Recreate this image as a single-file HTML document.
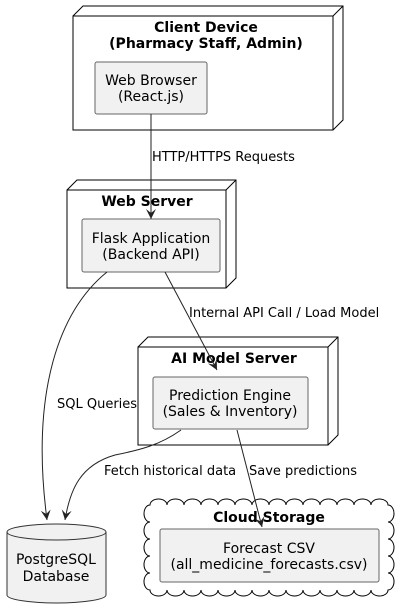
<!DOCTYPE html>
<html><head><style>
html,body{margin:0;padding:0;background:#fff;}
svg{display:block;}
text{font-family:"DejaVu Sans","Liberation Sans",sans-serif;font-size:14px;fill:#000;}
.b{font-weight:bold;font-size:14px;}
.e{font-size:13px;}
</style></head><body>
<svg width="406" height="614" viewBox="0 0 406 614" xmlns="http://www.w3.org/2000/svg">
<defs>
<marker id="a" markerWidth="12" markerHeight="12" refX="10" refY="5" orient="auto" markerUnits="userSpaceOnUse">
<path d="M0,0 L10,5 L0,10 L4,5 Z" fill="#222"/>
</marker>
</defs>
<g fill="#fff" stroke="#000" stroke-width="1">
<path d="M73,16 L83,6 L343,6 L343,120 L333,130"/>
<rect x="73" y="16" width="260" height="114"/>
<line x1="333" y1="16" x2="343" y2="6"/>
<path d="M67,190 L77,180 L236,180 L236,278 L226,288"/>
<rect x="67" y="190" width="159" height="98"/>
<line x1="226" y1="190" x2="236" y2="180"/>
<path d="M138,347 L148,337 L338,337 L338,435 L328,445"/>
<rect x="138" y="347" width="190" height="98"/>
<line x1="328" y1="347" x2="338" y2="337"/>
<path d="M150,505 a8.5 6 0 0 1 17 0 a8.5 6 0 0 1 17 0 a8.5 6 0 0 1 17 0 a8.5 6 0 0 1 17 0 a8.5 6 0 0 1 17 0 a8.5 6 0 0 1 17 0 a8.5 6 0 0 1 17 0 a8.5 6 0 0 1 17 0 a8.5 6 0 0 1 17 0 a8.5 6 0 0 1 17 0 a8.5 6 0 0 1 17 0 a8.5 6 0 0 1 17 0 a8.5 6 0 0 1 17 0 a8.5 6 0 0 1 17 0
a6 8.5 0 0 1 0 17 a6 8.5 0 0 1 0 17 a6 8.5 0 0 1 0 17 a6 8.5 0 0 1 0 17 a6 8.5 0 0 1 0 17
a8.5 6 0 0 1 -17 0 a8.5 6 0 0 1 -17 0 a8.5 6 0 0 1 -17 0 a8.5 6 0 0 1 -17 0 a8.5 6 0 0 1 -17 0 a8.5 6 0 0 1 -17 0 a8.5 6 0 0 1 -17 0 a8.5 6 0 0 1 -17 0 a8.5 6 0 0 1 -17 0 a8.5 6 0 0 1 -17 0 a8.5 6 0 0 1 -17 0 a8.5 6 0 0 1 -17 0 a8.5 6 0 0 1 -17 0 a8.5 6 0 0 1 -17 0
a6 8.5 0 0 1 0 -17 a6 8.5 0 0 1 0 -17 a6 8.5 0 0 1 0 -17 a6 8.5 0 0 1 0 -17 a6 8.5 0 0 1 0 -17 Z"/>
</g>
<g fill="#f1f1f1" stroke="#333" stroke-width="1">
<path d="M7,532 L7,595 A49.5 8 0 0 0 106,595 L106,532"/>
<ellipse cx="56.5" cy="532" rx="49.5" ry="8"/>
</g>
<g fill="#f1f1f1" stroke="#666" stroke-width="1">
<rect x="95" y="62" width="112" height="52" rx="2"/>
<rect x="82" y="219" width="138" height="53" rx="2"/>
<rect x="153" y="377" width="155" height="52" rx="2"/>
<rect x="160" y="529" width="219" height="53" rx="2"/>
</g>
<text class="b" x="206" y="32" text-anchor="middle">Client Device</text>
<text class="b" x="206" y="48" text-anchor="middle">(Pharmacy Staff, Admin)</text>
<text class="b" x="147" y="206" text-anchor="middle">Web Server</text>
<text class="b" x="234" y="363" text-anchor="middle">AI Model Server</text>
<text class="b" x="269" y="522" text-anchor="middle">Cloud Storage</text>
<text x="151" y="85" text-anchor="middle">Web Browser</text>
<text x="151" y="101" text-anchor="middle">(React.js)</text>
<text x="151" y="243" text-anchor="middle">Flask Application</text>
<text x="151" y="259" text-anchor="middle">(Backend API)</text>
<text x="230" y="400" text-anchor="middle">Prediction Engine</text>
<text x="230" y="416" text-anchor="middle">(Sales &amp; Inventory)</text>
<text x="269" y="553" text-anchor="middle">Forecast CSV</text>
<text x="269" y="569" text-anchor="middle">(all_medicine_forecasts.csv)</text>
<text x="56" y="564" text-anchor="middle">PostgreSQL</text>
<text x="56" y="581" text-anchor="middle">Database</text>
<g fill="none" stroke="#222" stroke-width="1" marker-end="url(#a)">
<path d="M151,114 L151,219"/>
<path d="M107,272 C60,310 30,390 47,520"/>
<path d="M165,272 L217,370"/>
<path d="M181,430 C160,445 140,450 115,455 C80,465 70,490 65,520"/>
<path d="M237,430 L262,527"/>
</g>
<text class="e" x="152" y="161">HTTP/HTTPS Requests</text>
<text class="e" x="189" y="317">Internal API Call / Load Model</text>
<text class="e" x="57" y="408">SQL Queries</text>
<text class="e" x="104" y="475">Fetch historical data</text>
<text class="e" x="249" y="475">Save predictions</text>
</svg>
</body></html>
